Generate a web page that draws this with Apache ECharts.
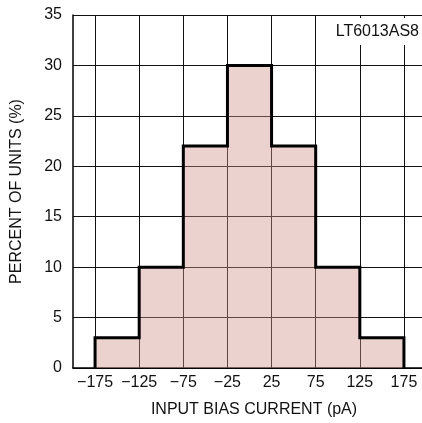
<!DOCTYPE html>
<html><head><meta charset="utf-8">
<script src="https://cdn.jsdelivr.net/npm/echarts@6/dist/echarts.min.js"></script>
<style>html,body{margin:0;padding:0;background:#fff}#c{width:422px;height:423px}</style>
</head><body><div id="c"></div>
<script>
var binEdges = [-175, -125, -75, -25, 25, 75, 125, 175];
var percentOfUnits = [3, 10, 22, 30, 22, 10, 3];
var xTickLabels = [-175, -125, -75, -25, 25, 75, 125, 175];
var yTicks = [0, 5, 10, 15, 20, 25, 30, 35];

var FONT = "'Liberation Sans', Arial, sans-serif";

// step outline in data space
var outline = [[binEdges[0], 0]];
for (var i = 0; i < percentOfUnits.length; i++) {
  outline.push([binEdges[i], percentOfUnits[i]]);
  outline.push([binEdges[i + 1], percentOfUnits[i]]);
}
outline.push([binEdges[binEdges.length - 1], 0]);

var chart = echarts.init(document.getElementById('c'), null, {renderer: 'canvas'});
chart.setOption({
  animation: false,
  backgroundColor: '#fff',
  textStyle: {fontFamily: FONT},
  title: {
    text: 'LT6013AS8',
    right: 0, top: 18,
    padding: [5, 3, 5, 6],
    backgroundColor: '#fff',
    textStyle: {fontFamily: FONT, fontSize: 16, fontWeight: 'normal', color: '#111', lineHeight: 17}
  },
  grid: {left: 73, top: 15, width: 353, height: 353, containLabel: false, outerBoundsMode: 'none'},
  xAxis: {
    type: 'value', min: -200, max: 200,
    name: 'INPUT BIAS CURRENT (pA)', nameLocation: 'middle', nameGap: 34,
    nameTextStyle: {fontFamily: FONT, fontSize: 16, color: '#111', padding: [0, 0, 0, 9]},
    axisLine: {show: true, onZero: false, lineStyle: {color: '#000', width: 1.5}},
    axisTick: {show: false, customValues: xTickLabels},
    axisLabel: {
      fontFamily: FONT, fontSize: 16, color: '#111', margin: 7, hideOverlap: false,
      customValues: xTickLabels,
      formatter: function (v) { return String(v).replace('-', '\u2212'); }
    },
    splitLine: {show: true, lineStyle: {color: '#111', width: 1}}
  },
  yAxis: {
    type: 'value', min: yTicks[0], max: yTicks[yTicks.length - 1], interval: 5,
    name: 'PERCENT OF UNITS (%)', nameLocation: 'middle', nameGap: 48, nameRotate: 90,
    nameTextStyle: {fontFamily: FONT, fontSize: 16, color: '#111'},
    axisLine: {show: true, onZero: false, lineStyle: {color: '#000', width: 1.5}},
    axisTick: {show: false},
    axisLabel: {fontFamily: FONT, fontSize: 16, color: '#111', margin: 11},
    splitLine: {show: true, lineStyle: {color: '#111', width: 1}}
  },
  series: [
    {
      type: 'line', data: outline, symbol: 'none', silent: true,
      lineStyle: {width: 0, opacity: 0},
      areaStyle: {color: 'rgba(207,148,138,0.6)', origin: 'start'},
      z: 2
    },
    {
      type: 'line', data: outline, symbol: 'none', silent: true,
      lineStyle: {color: '#000', width: 3, join: 'miter', cap: 'butt'},
      z: 3
    }
  ]
});
</script></body></html>
